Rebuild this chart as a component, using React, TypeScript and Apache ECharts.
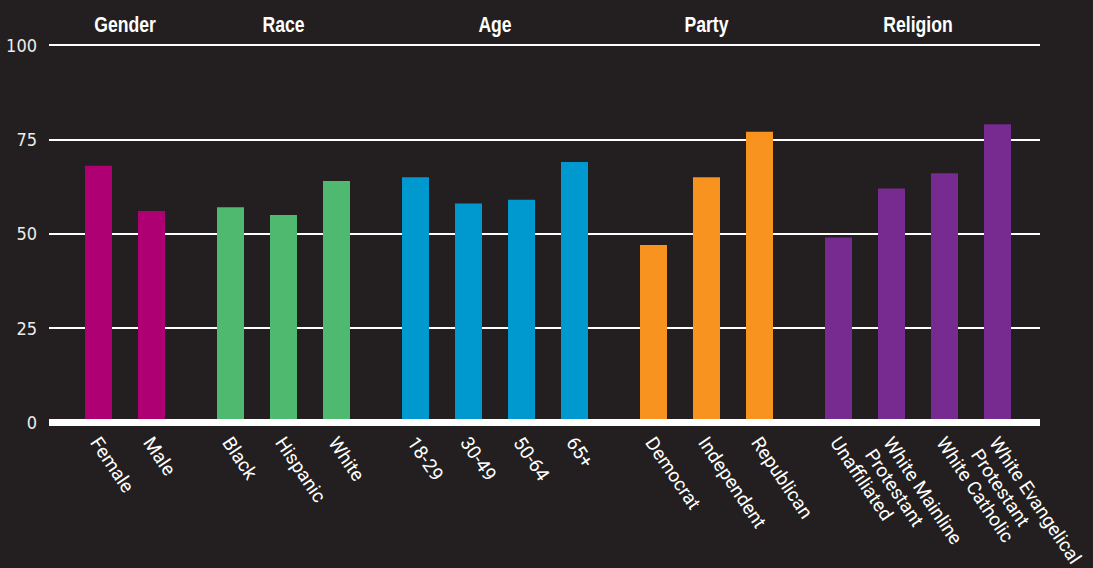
import React, { useEffect, useRef } from "react";
import * as echarts from "echarts";

// Share of each demographic group (percent)
const groupNames = ["Gender", "Race", "Age", "Party", "Religion"];

const genderLabels = ["Female", "Male"];
const genderValues = [68, 56];

const raceLabels = ["Black", "Hispanic", "White"];
const raceValues = [57, 55, 64];

const ageLabels = ["18-29", "30-49", "50-64", "65+"];
const ageValues = [65, 58, 59, 69];

const partyLabels = ["Democrat", "Independent", "Republican"];
const partyValues = [47, 65, 77];

const religionLabels = [
  "Unaffiliated",
  "White Mainline\nProtestant",
  "White Catholic",
  "White Evangelical\nProtestant",
];
const religionValues = [49, 62, 66, 79];

const groupColors = ["#ae0072", "#4fb96f", "#0099cf", "#f7931e", "#772a8f"];

const yMin = 0;
const yMax = 100;
const yStep = 25;

// Layout (pixels)
const W = 1093;
const H = 568;
const PLOT_LEFT = 49;
const PLOT_RIGHT = 1040;
const PLOT_TOP = 45;
const ZERO_Y = 422.5;
const FIRST_GROUP_X = 72;
const SLOT = 53;
const GROUP_GAP = 26;
const BAR_W = 27;
const TITLE_Y = 24;

const BG = "#231f20";
const CONDENSED = "'DejaVu Sans Condensed', 'Liberation Sans', sans-serif";

export default function App() {
  const ref = useRef<HTMLDivElement>(null);

  useEffect(() => {
    if (!ref.current) return;
    const chart = echarts.init(ref.current, null, { renderer: "svg" });

    const groups = [
      { labels: genderLabels, values: genderValues },
      { labels: raceLabels, values: raceValues },
      { labels: ageLabels, values: ageValues },
      { labels: partyLabels, values: partyValues },
      { labels: religionLabels, values: religionValues },
    ];

    const grids: any[] = [
      {
        left: PLOT_LEFT,
        width: PLOT_RIGHT - PLOT_LEFT,
        top: PLOT_TOP,
        bottom: H - ZERO_Y,
        containLabel: false,
        outerBoundsMode: "none",
      },
    ];
    const xAxes: any[] = [
      {
        gridIndex: 0,
        type: "category",
        data: [""],
        z: 10,
        axisLine: { show: true, lineStyle: { color: "#ffffff", width: 7, cap: "butt" } },
        axisTick: { show: false },
        axisLabel: { show: false },
        splitLine: { show: false },
      },
    ];
    const yAxes: any[] = [
      {
        gridIndex: 0,
        type: "value",
        min: yMin,
        max: yMax,
        interval: yStep,
        axisLine: { show: false },
        axisTick: { show: false },
        axisLabel: {
          color: "#ececec",
          fontSize: 18,
          fontFamily: CONDENSED,
          margin: 12,
        },
        splitLine: { show: true, lineStyle: { color: "#ffffff", width: 2 } },
      },
    ];
    const series: any[] = [];
    const titleTexts: any[] = [];

    let x = FIRST_GROUP_X;
    groups.forEach((g, i) => {
      const width = g.labels.length * SLOT;
      const gi = i + 1;
      grids.push({
        left: x,
        width,
        top: PLOT_TOP,
        bottom: H - ZERO_Y,
        containLabel: false,
        outerBoundsMode: "none",
      });
      xAxes.push({
        gridIndex: gi,
        type: "category",
        data: g.labels,
        axisLine: { show: false },
        axisTick: { show: false },
        splitLine: { show: false },
        axisLabel: {
          interval: 0,
          rotate: -56,
          color: "#ffffff",
          fontSize: 19,
          fontFamily: "Roboto, sans-serif",
          margin: 2,
          verticalAlign: "top",
          lineHeight: 22,
          padding: [0, 0, 0, 10],
        },
      });
      yAxes.push({ gridIndex: gi, type: "value", min: yMin, max: yMax, show: false });
      series.push({
        type: "bar",
        name: groupNames[i],
        xAxisIndex: gi,
        yAxisIndex: gi,
        data: g.values,
        barWidth: BAR_W,
        itemStyle: { color: groupColors[i] },
      });
      // Group heading, horizontally squeezed to read as a condensed face
      titleTexts.push({
        type: "text",
        x: x + width / 2,
        y: TITLE_Y,
        scaleX: 0.8,
        style: {
          text: groupNames[i],
          fill: "#ffffff",
          font: "bold 22px 'Liberation Sans', Arial, sans-serif",
          align: "center",
          verticalAlign: "middle",
        },
      });
      x += width + GROUP_GAP;
    });

    chart.setOption({
      animation: false,
      backgroundColor: BG,
      grid: grids,
      xAxis: xAxes,
      yAxis: yAxes,
      series,
      graphic: titleTexts,
    });

    return () => chart.dispose();
  }, []);

  return (
    <div
      ref={ref}
      style={{ position: "fixed", left: 0, top: 0, width: W, height: H, background: BG }}
    />
  );
}
